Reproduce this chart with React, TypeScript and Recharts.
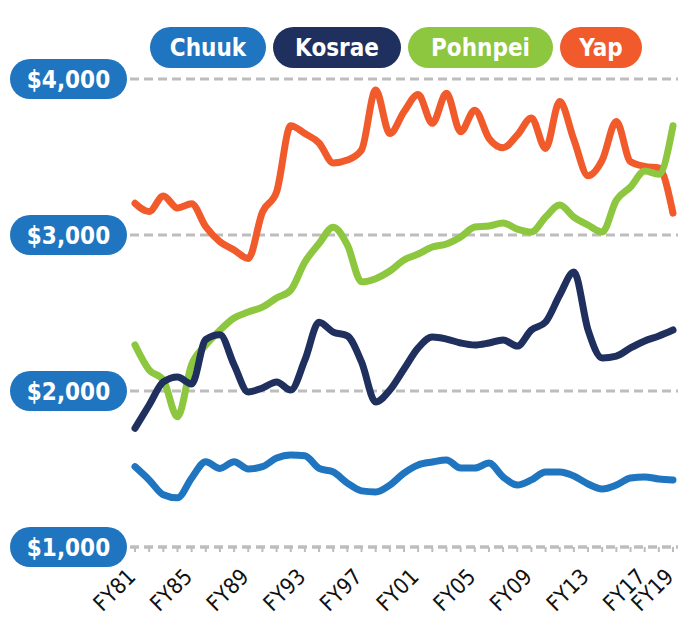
import React from 'react';
import { LineChart, Line, XAxis, YAxis, CartesianGrid } from 'recharts';

const years = [
  'FY81', 'FY82', 'FY83', 'FY84', 'FY85', 'FY86', 'FY87', 'FY88', 'FY89', 'FY90',
  'FY91', 'FY92', 'FY93', 'FY94', 'FY95', 'FY96', 'FY97', 'FY98', 'FY99', 'FY00',
  'FY01', 'FY02', 'FY03', 'FY04', 'FY05', 'FY06', 'FY07', 'FY08', 'FY09', 'FY10',
  'FY11', 'FY12', 'FY13', 'FY14', 'FY15', 'FY16', 'FY17', 'FY18', 'FY19',
];

const chuuk = [
  1515, 1430, 1335, 1315, 1442, 1547, 1504, 1547, 1500, 1515,
  1570, 1590, 1585, 1504, 1481, 1410, 1360, 1353, 1397, 1474,
  1526, 1545, 1558, 1506, 1506, 1538, 1449, 1397, 1430, 1481,
  1481, 1455, 1404, 1372, 1397, 1442, 1449, 1436, 1430,
];

const kosrae = [
  1761, 1910, 2058, 2090, 2045, 2330, 2360, 2167, 1994, 2019,
  2058, 2006, 2199, 2440, 2378, 2353, 2186, 1929, 2006, 2141,
  2276, 2346, 2333, 2308, 2295, 2308, 2327, 2288, 2391, 2442,
  2615, 2763, 2391, 2212, 2224, 2276, 2321, 2353, 2391,
];

const pohnpei = [
  2295, 2135, 2070, 1835, 2170, 2295, 2390, 2468, 2506, 2538,
  2596, 2647, 2827, 2945, 3050, 2936, 2700, 2720, 2769, 2840,
  2878, 2923, 2942, 2987, 3051, 3058, 3077, 3038, 3019, 3115,
  3192, 3115, 3064, 3019, 3224, 3308, 3410, 3390, 3700,
];

const yap = [
  3203, 3150, 3250, 3173, 3200, 3053, 2957, 2904, 2850, 3147,
  3276, 3700, 3650, 3590, 3462, 3480, 3545, 3930, 3650, 3790,
  3900, 3716, 3908, 3662, 3800, 3620, 3560, 3640, 3750, 3555,
  3855, 3610, 3380, 3480, 3727, 3470, 3440, 3430, 3140,
];

const labelledYears = ['FY81', 'FY85', 'FY89', 'FY93', 'FY97', 'FY01', 'FY05', 'FY09', 'FY13', 'FY17', 'FY19'];
const yTicks = [1000, 2000, 3000, 4000];

const series = [
  { key: 'chuuk', name: 'Chuuk', color: '#1f75bf', width: 116 },
  { key: 'kosrae', name: 'Kosrae', color: '#1f2f5e', width: 128 },
  { key: 'pohnpei', name: 'Pohnpei', color: '#8dc63f', width: 145 },
  { key: 'yap', name: 'Yap', color: '#f15a2b', width: 82 },
];

// kosrae sits on top where it crosses pohnpei, pohnpei over yap
const drawOrder = ['chuuk', 'yap', 'pohnpei', 'kosrae'];

const data = years.map((y, i) => ({
  year: y,
  chuuk: chuuk[i],
  kosrae: kosrae[i],
  pohnpei: pohnpei[i],
  yap: yap[i],
}));

const FONT = "'DejaVu Sans Condensed', 'Liberation Sans Narrow', Roboto, sans-serif";

const YPill = (props: any) => {
  const { y, payload } = props;
  const label = '$' + payload.value.toLocaleString('en-US');
  return (
    <g>
      <rect x={10} y={y - 20} width={117} height={40} rx={20} ry={20} fill="#1f75bf" />
      <text x={68.5} y={y} dy={8.5} textAnchor="middle" fill="#fff" fontSize={24} fontWeight="bold" fontFamily={FONT}>
        {label}
      </text>
    </g>
  );
};

const XLabel = (props: any) => {
  const { x, y, payload } = props;
  if (!labelledYears.includes(payload.value)) return null;
  const ax = x + 2;
  const ay = y + 24;
  return (
    <text
      x={ax}
      y={ay}
      transform={`rotate(-45, ${ax}, ${ay})`}
      textAnchor="end"
      fill="#111"
      fontSize={22}
      fontFamily={FONT}
    >
      {payload.value}
    </text>
  );
};

export default function App() {
  return (
    <div style={{ position: 'absolute', left: 0, top: 0, width: 678, height: 618, background: '#fff' }}>
      <div style={{ position: 'absolute', left: 150, top: 27, display: 'flex', gap: 7, zIndex: 2 }}>
        {series.map((s) => (
          <div
            key={s.key}
            style={{
              width: s.width,
              height: 41,
              borderRadius: 21,
              background: s.color,
              color: '#fff',
              fontFamily: FONT,
              fontWeight: 'bold',
              fontSize: 24,
              display: 'flex',
              alignItems: 'center',
              justifyContent: 'center',
            }}
          >
            {s.name}
          </div>
        ))}
      </div>
      <LineChart width={678} height={618} data={data} margin={{ top: 79, right: 0, bottom: 0, left: 0 }}>
        <CartesianGrid vertical={false} stroke="#bdbdbd" strokeWidth={3} strokeDasharray="9 5" />
        <XAxis
          dataKey="year"
          interval={0}
          height={71}
          padding={{ left: 5, right: 5 }}
          axisLine={{ stroke: '#bdbdbd', strokeWidth: 3, strokeDasharray: '9 5' }}
          tickLine={{ stroke: '#bdbdbd', strokeWidth: 2 }}
          tickSize={5}
          tick={<XLabel />}
        />
        <YAxis
          domain={[1000, 4000]}
          ticks={yTicks}
          width={130}
          axisLine={false}
          tickLine={false}
          tick={<YPill />}
        />
        {drawOrder.map((k) => {
          const s = series.find((d) => d.key === k)!;
          return (
            <Line
              key={k}
              type="monotone"
              dataKey={k}
              name={s.name}
              stroke={s.color}
              strokeWidth={7}
              strokeLinecap="round"
              strokeLinejoin="round"
              dot={false}
              isAnimationActive={false}
            />
          );
        })}
      </LineChart>
    </div>
  );
}
